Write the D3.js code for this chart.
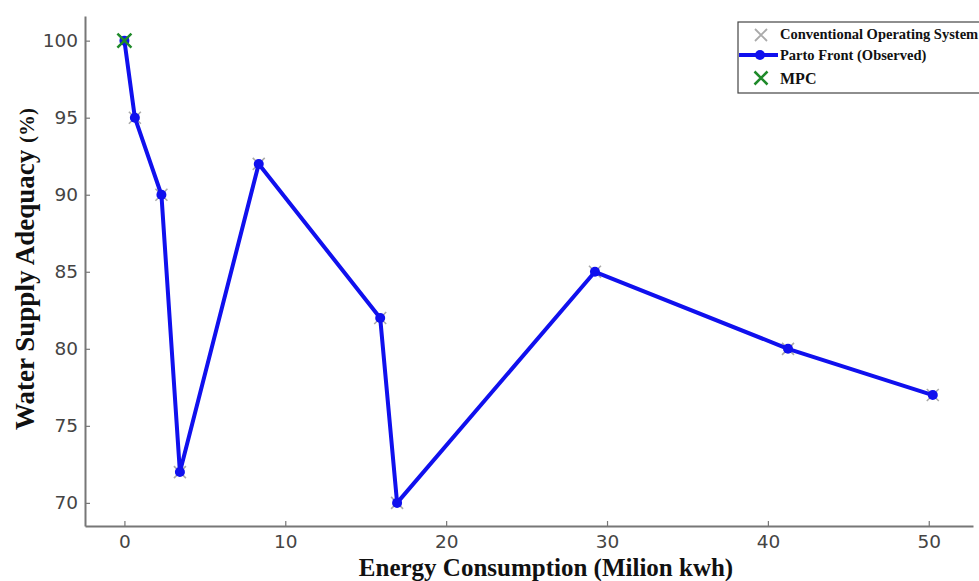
<!DOCTYPE html>
<html><head><meta charset="utf-8">
<script src="https://cdn.jsdelivr.net/npm/d3@7"></script>
<style>body{margin:0;background:#fff}</style>
</head><body>
<svg id="c" width="979" height="581"></svg>
<script>
const energy = [0, 0.65, 2.3, 3.45, 8.35, 15.9, 16.95, 29.25, 41.25, 50.25];
const adequacy = [100, 95, 90, 72, 92, 82, 70, 85, 80, 77];
const mpcPoint = [0, 100];
const xTicks = [0, 10, 20, 30, 40, 50];
const yTicks = [70, 75, 80, 85, 90, 95, 100];
const legendLabels = ["Conventional Operating System", "Parto Front (Observed)", "MPC"];

const svg = d3.select("#c");
const x = d3.scaleLinear().domain([-2.45, 52.75]).range([85, 973]);
const y = d3.scaleLinear().domain([68.5, 101.6]).range([526, 16]);

// axes
const gx = svg.append("g").attr("transform", "translate(0,526)")
  .call(d3.axisBottom(x).tickValues(xTicks).tickSizeInner(-5).tickSizeOuter(0).tickPadding(9));
const gy = svg.append("g").attr("transform", "translate(85,0)")
  .call(d3.axisLeft(y).tickValues(yTicks).tickSizeInner(-5).tickSizeOuter(0).tickPadding(7));
[gx, gy].forEach(g => {
  g.select(".domain").attr("stroke", "#777").attr("stroke-width", 2);
  g.selectAll(".tick line").attr("stroke", "#777").attr("stroke-width", 1.2);
  g.selectAll(".tick text").attr("fill", "#444").style("font-family", "DejaVu Sans").style("font-size", "18.5px");
});

// titles
svg.append("text").attr("x", 546).attr("y", 575.5).attr("text-anchor", "middle")
  .style("font-family", "Liberation Serif").style("font-weight", "bold").style("font-size", "25px").attr("fill", "#111")
  .text("Energy Consumption (Milion kwh)");
const yt = svg.append("text").attr("transform", "translate(34,269) rotate(-90)").attr("text-anchor", "middle")
  .style("font-family", "Liberation Serif").style("font-weight", "bold").attr("fill", "#111");
yt.append("tspan").style("font-size", "27px").text("Water Supply Adequacy ");
yt.append("tspan").style("font-size", "21px").text("(%)");

// conventional gray X markers
function xPath(s) { return `M${-s},${-s}L${s},${s}M${-s},${s}L${s},${-s}`; }
svg.append("g").selectAll("path").data(energy).join("path")
  .attr("transform", (d, i) => `translate(${x(d)},${y(adequacy[i])})`)
  .attr("d", xPath(6)).attr("stroke", "#aaa").attr("stroke-width", 1.6).attr("fill", "none");

// pareto front line
const line = d3.line().x((d, i) => x(d)).y((d, i) => y(adequacy[i]));
svg.append("path").datum(energy).attr("d", line).attr("fill", "none")
  .attr("stroke", "#1010ee").attr("stroke-width", 4).attr("stroke-linejoin", "round");
svg.append("g").selectAll("circle").data(energy).join("circle")
  .attr("cx", d => x(d)).attr("cy", (d, i) => y(adequacy[i])).attr("r", 5).attr("fill", "#1010ee");

// MPC
svg.append("path").attr("transform", `translate(${x(mpcPoint[0])},${y(mpcPoint[1])})`)
  .attr("d", xPath(7)).attr("stroke", "#1f8a2a").attr("stroke-width", 2.5).attr("fill", "none");

// legend
const lg = svg.append("g");
lg.append("rect").attr("x", 738).attr("y", 22).attr("width", 250).attr("height", 71)
  .attr("fill", "#fff").attr("stroke", "#444").attr("stroke-width", 1.2);
lg.append("path").attr("transform", "translate(761,35)").attr("d", xPath(6)).attr("stroke", "#aaa").attr("stroke-width", 1.8).attr("fill", "none");
lg.append("line").attr("x1", 739).attr("x2", 778).attr("y1", 55).attr("y2", 55).attr("stroke", "#1010ee").attr("stroke-width", 4);
lg.append("circle").attr("cx", 760).attr("cy", 55).attr("r", 5).attr("fill", "#1010ee");
lg.append("path").attr("transform", "translate(761,78)").attr("d", xPath(6.5)).attr("stroke", "#1f8a2a").attr("stroke-width", 2.5).attr("fill", "none");
const ly = [39, 60, 84], ls = [14.5, 14.5, 16];
lg.selectAll("text").data(legendLabels).join("text")
  .attr("x", 780).attr("y", (d, i) => ly[i])
  .style("font-family", "Liberation Serif").style("font-weight", "bold").style("font-size", (d, i) => ls[i] + "px")
  .attr("fill", "#111").text(d => d);
</script>
</body></html>
